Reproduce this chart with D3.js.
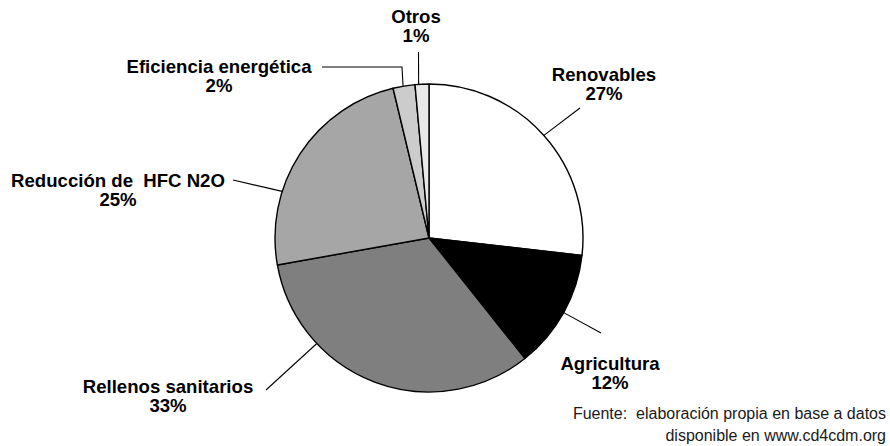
<!DOCTYPE html>
<html>
<head>
<meta charset="utf-8">
<script src="https://cdn.jsdelivr.net/npm/d3@7"></script>
<style>
  html, body { margin: 0; padding: 0; background: #fff; }
  svg { display: block; }
</style>
</head>
<body>
<svg id="chart" width="890" height="446"></svg>
<script>
// ---- data ----
const categories = ["Renovables", "Agricultura", "Rellenos sanitarios", "Reducción de  HFC N2O", "Eficiencia energética", "Otros"];
const values = [26.8, 12.5, 32.9, 24.05, 2.3, 1.45];
const percentLabels = ["27%", "12%", "33%", "25%", "2%", "1%"];
const fillColors = ["#ffffff", "#000000", "#7f7f7f", "#a6a6a6", "#cccccc", "#e8e8e8"];
const sourceLines = ["Fuente:  elaboración propia en base a datos", "disponible en www.cd4cdm.org"];

// ---- layout (label placement, not data) ----
const cx = 429, cy = 238, R = 154;
// t: fraction along the slice where the leader touches; lx,ly: label center/baseline; pts: leader points on label side
const labelLayout = [
  { t: 0.5,  lx: 604, ly: 81,  pts: [[580, 108]] },
  { t: 0.5,  lx: 610, ly: 370, pts: [[601, 333]] },
  { t: 0.72, lx: 168, ly: 393, pts: [[266, 390]] },
  { t: 0.32, lx: 118, ly: 187, pts: [[233, 180]] },
  { t: 0.46, lx: 219, ly: 73,  pts: [[322, 67], [402, 67]] },
  { t: 0.26, lx: 416, ly: 23,  pts: [[418.5, 52]] }
];

const svg = d3.select("#chart");
const g = svg.append("g").attr("transform", `translate(${cx},${cy})`);

const pie = d3.pie().sort(null).value(d => d)(values);
const arc = d3.arc().innerRadius(0).outerRadius(R);

g.selectAll("path.slice")
  .data(pie)
  .join("path")
  .attr("class", "slice")
  .attr("d", arc)
  .attr("fill", (d, i) => fillColors[i])
  .attr("stroke", "#000")
  .attr("stroke-width", 1.4)
  .attr("stroke-linejoin", "round");

// leader lines
const line = d3.line();
pie.forEach((d, i) => {
  const L = labelLayout[i];
  const a = d.startAngle + L.t * (d.endAngle - d.startAngle);
  const edge = [cx + R * Math.sin(a), cy - R * Math.cos(a)];
  const pts = L.pts.concat([edge]);
  svg.append("path")
    .attr("d", line(pts))
    .attr("fill", "none")
    .attr("stroke", "#000")
    .attr("stroke-width", 1.1);
});

// labels
const font = "'Liberation Sans', Arial, Helvetica, sans-serif";
pie.forEach((d, i) => {
  const L = labelLayout[i];
  const t = svg.append("text")
    .attr("text-anchor", "middle")
    .attr("font-family", font)
    .attr("font-weight", "bold")
    .attr("font-size", 18.6)
    .attr("fill", "#000")
    .style("white-space", "pre");
  t.append("tspan").attr("x", L.lx).attr("y", L.ly).text(categories[i]);
  t.append("tspan").attr("x", L.lx).attr("y", L.ly + 19).text(percentLabels[i]);
});

// source note
const src = svg.append("text")
  .attr("text-anchor", "end")
  .attr("font-family", font)
  .attr("font-size", 16)
  .attr("fill", "#1a1a1a")
  .style("white-space", "pre");
sourceLines.forEach((s, i) => {
  src.append("tspan").attr("x", 886).attr("y", 419 + i * 22).text(s);
});
</script>
</body>
</html>
